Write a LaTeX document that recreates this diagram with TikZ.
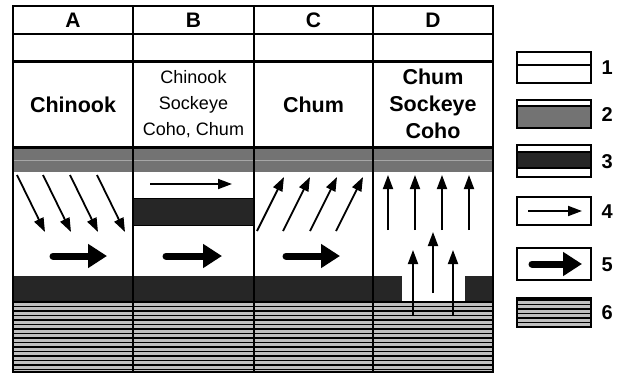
\documentclass[tikz,border=0pt]{standalone}
\usepackage{fontspec}
\setmainfont{Liberation Sans}
\usetikzlibrary{arrows.meta}
\begin{document}
\begin{tikzpicture}[x=1pt,y=-1pt,
  thinarr/.style={line width=1.8pt,-{Triangle[length=14pt,width=10pt]}},
  thickarr/.style={line width=7pt,line cap=round,-{Triangle[length=19pt,width=23pt]}},
  grayfill/.style={fill=black!55},
  darkfill/.style={fill=black!85},
  hdr/.style={font=\bfseries\fontsize{21}{24}\selectfont},
  bold/.style={font=\bfseries\fontsize{21.5}{27}\selectfont,align=center},
  reg/.style={font=\fontsize{18}{26}\selectfont,align=center},
  num/.style={font=\bfseries\fontsize{20}{22}\selectfont,anchor=west},
  lbox/.style={draw,line width=1.5pt}
]
\useasboundingbox (0,0) rectangle (618,375);
% ---- layers in table ----
\fill[grayfill] (13,147) rectangle (493,172);
\draw[black!35,line width=1pt] (13,160) -- (493,160);
\draw[line width=3pt] (13,147) -- (493,147);
\fill[darkfill] (133,198) rectangle (254,226);
\draw[line width=1pt] (133,198) -- (254,198) (133,225.5) -- (254,225.5);
\fill[darkfill] (13,276) rectangle (402,301);
\fill[darkfill] (465,276) rectangle (493,301);
\fill[black!25] (13,301) rectangle (493,372);
\foreach \yy in {302,306.5,...,372} \draw[line width=1.6pt] (13,\yy) -- (493,\yy);
% ---- grid ----
\draw[line width=1.5pt] (13,34) -- (493,34);
\draw[line width=3pt] (13,61) -- (493,61);
\foreach \xx in {133,254,373} \draw[line width=1.6pt] (\xx,6) -- (\xx,372);
\draw[line width=2pt] (13,6) rectangle (493,372);
% ---- texts ----
\node[hdr] (hA) at (73,20) {A};
\node[hdr] (hB) at (193.5,20) {B};
\node[hdr] (hC) at (313.5,20) {C};
\node[hdr] (hD) at (433,20) {D};
\node[bold] (sA) at (73,105) {Chinook};
\node[reg] (sB) at (193.5,104) {Chinook\\Sockeye\\Coho, Chum};
\node[bold] (sC) at (313.5,105) {Chum};
\node[bold] (sD) at (433,104) {Chum\\Sockeye\\Coho};
% ---- column A arrows ----
\foreach \xx in {17,43,70,97} \draw[thinarr] (\xx,175) -- (\xx+28,232);
\draw[thickarr] (53,256) -- (107,256);
% ---- column B ----
\draw[thinarr] (150,184) -- (232,184);
\draw[thickarr] (166,256) -- (222,256);
% ---- column C ----
\foreach \xx in {257,283,310,336} \draw[thinarr] (\xx,231) -- (\xx+27,177);
\draw[thickarr] (286,256) -- (340,256);
% ---- column D ----
\foreach \xx in {388,415,442,469} \draw[thinarr] (\xx,230) -- (\xx,175);
\draw[thinarr] (433,293) -- (433,232);
\draw[thinarr] (413,316) -- (413,250);
\draw[thinarr] (453,316) -- (453,250);
% ---- legend ----
\draw[lbox] (517,52) rectangle (591,83);
\draw[line width=1.5pt] (517,65) -- (591,65);
\node[num] (n1) at (598,68) {1};
\fill[grayfill] (517,106) rectangle (591,128);
\draw[line width=1.2pt] (517,106) -- (591,106);
\draw[lbox] (517,100) rectangle (591,128);
\node[num] (n2) at (598,115) {2};
\fill[darkfill] (517,152) rectangle (591,168);
\draw[line width=1.2pt] (517,152) -- (591,152) (517,168) -- (591,168);
\draw[lbox] (517,145) rectangle (591,177);
\node[num] (n3) at (598,162) {3};
\draw[lbox] (517,197) rectangle (591,225);
\draw[thinarr] (528,211) -- (582,211);
\node[num] (n4) at (598,212) {4};
\draw[lbox] (517,248) rectangle (591,280);
\draw[thickarr] (532,264) -- (582,264);
\node[num] (n5) at (598,265) {5};
\fill[black!25] (517,298) rectangle (591,327);
\foreach \yy in {300,304.5,...,326} \draw[line width=1.5pt] (517,\yy) -- (591,\yy);
\draw[lbox] (517,298) rectangle (591,327);
\node[num] (n6) at (598,313) {6};
\end{tikzpicture}
\end{document}
